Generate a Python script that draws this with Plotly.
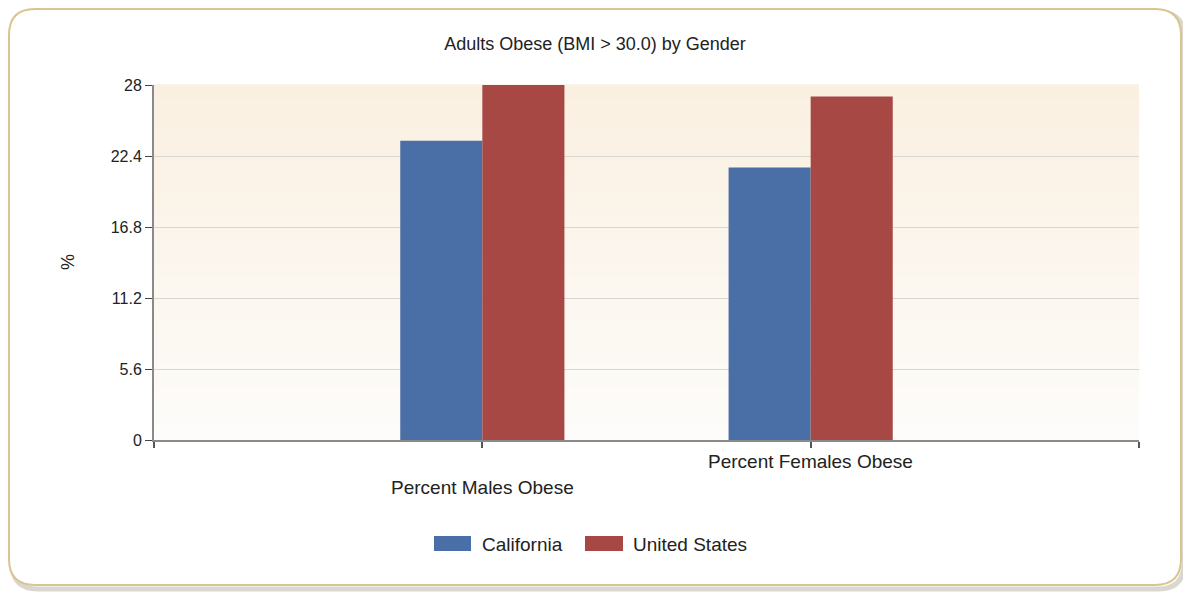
import plotly.graph_objects as go

categories = ["Percent Males Obese", "Percent Females Obese"]
california = [23.6, 21.5]
united_states = [28.0, 27.1]
y_ticks = [0, 5.6, 11.2, 16.8, 22.4, 28]
y_tick_labels = ["0", "5.6", "11.2", "16.8", "22.4", "28"]
series_names = ["California", "United States"]
series_colors = ["#4a6ea6", "#a84844"]

# The page body has an 8px margin; design in screen pixels and shift.
OFF = 8
W, H = 1191 - OFF, 594 - OFF
PL, PR, PT, PB = 154, 1139, 85, 440   # plot area in screen pixels
L, T = PL - OFF, PT - OFF
pw, ph = PR - PL, PB - PT
R, B = W - L - pw, H - T - ph

def px(x):
    return (x - PL) / pw

def py(y):
    return (PB - y) / ph

FONT = "Liberation Sans, Arial, sans-serif"
xpos = list(range(len(categories)))

fig = go.Figure()
fig.add_trace(go.Bar(x=xpos, y=california, name=series_names[0], marker_color=series_colors[0],
                     marker_line_width=0, showlegend=False))
fig.add_trace(go.Bar(x=xpos, y=united_states, name=series_names[1], marker_color=series_colors[1],
                     marker_line_width=0, showlegend=False))

shapes = []

def frame_path(x0, y0, x1, y1, r):
    pts = []
    pts.append("M %f,%f" % (px(x0 + r), py(y0)))
    pts.append("L %f,%f" % (px(x1 - r), py(y0)))
    pts.append("Q %f,%f %f,%f" % (px(x1), py(y0), px(x1), py(y0 + r)))
    pts.append("L %f,%f" % (px(x1), py(y1 - r)))
    pts.append("Q %f,%f %f,%f" % (px(x1), py(y1), px(x1 - r), py(y1)))
    pts.append("L %f,%f" % (px(x0 + r), py(y1)))
    pts.append("Q %f,%f %f,%f" % (px(x0), py(y1), px(x0), py(y1 - r)))
    pts.append("L %f,%f" % (px(x0), py(y0 + r)))
    pts.append("Q %f,%f %f,%f" % (px(x0), py(y0), px(x0 + r), py(y0)))
    pts.append("Z")
    return " ".join(pts)

# outer rounded frame with soft shadow
shapes.append(dict(type="path", xref="paper", yref="paper",
                   path=frame_path(12, 12, 1184, 589, 26),
                   line=dict(color="rgba(150,140,120,0.35)", width=5), layer="below"))
shapes.append(dict(type="path", xref="paper", yref="paper",
                   path=frame_path(9, 9, 1181, 585, 26),
                   line=dict(color="#d9c58e", width=2), fillcolor="white", layer="below"))

# gradient background in plot area
n = 70
top = (250, 240, 225)
bot = (253, 252, 250)
for i in range(n):
    f = i / (n - 1)
    c = tuple(round(top[k] + (bot[k] - top[k]) * f) for k in range(3))
    shapes.append(dict(type="rect", xref="paper", yref="paper", x0=0, x1=1,
                       y0=1 - (i + 1) / n, y1=1 - i / n + 0.002, fillcolor="rgb(%d,%d,%d)" % c,
                       line_width=0, layer="below"))

# custom legend keys
legend_keys = [(434, 471), (585, 623)]
for (x0, x1), col in zip(legend_keys, series_colors):
    shapes.append(dict(type="rect", xref="paper", yref="paper", x0=px(x0), x1=px(x1),
                       y0=py(551), y1=py(536), fillcolor=col, line_width=0))

annotations = [
    dict(text=categories[0], x=0, y=py(487), xref="x", yref="paper", showarrow=False,
         xanchor="center", yanchor="middle", font=dict(family=FONT, size=19, color="#222")),
    dict(text=categories[1], x=1, y=py(462), xref="x", yref="paper", showarrow=False,
         xanchor="center", yanchor="middle", font=dict(family=FONT, size=19, color="#222")),
    dict(text="%", x=px(68), y=py(262), xref="paper", yref="paper", showarrow=False,
         xanchor="center", yanchor="middle",
         textangle=-90, font=dict(family=FONT, size=18, color="#222")),
    dict(text=series_names[0], x=px(480), y=py(544), xref="paper", yref="paper",
         showarrow=False, xanchor="left", yanchor="middle",
         font=dict(family=FONT, size=19, color="#222")),
    dict(text=series_names[1], x=px(631), y=py(544), xref="paper", yref="paper",
         showarrow=False, xanchor="left", yanchor="middle",
         font=dict(family=FONT, size=19, color="#222")),
]

fig.update_layout(
    width=W, height=H,
    margin=dict(l=L, r=R, t=T, b=B),
    paper_bgcolor="white",
    plot_bgcolor="rgba(0,0,0,0)",
    barmode="group", bargap=0.5, bargroupgap=0,
    showlegend=False,
    title=dict(text="Adults Obese (BMI > 30.0) by Gender", x=px(595), xanchor="center",
               xref="paper", y=1 - (44 - OFF) / H, yanchor="middle",
               font=dict(family=FONT, size=18, color="#222")),
    font=dict(family=FONT, size=16, color="#222"),
    xaxis=dict(range=[-1, 2], tickvals=[-1, 0, 1, 2], ticktext=["", "", "", ""],
               showgrid=False, zeroline=False, showline=True, linecolor="#8a8a8a",
               linewidth=2, ticks="outside", ticklen=6, tickcolor="#555", tickwidth=2),
    yaxis=dict(range=[0, 28], tickvals=y_ticks, ticktext=y_tick_labels,
               showgrid=True, gridcolor="#d9d5d0", gridwidth=1, zeroline=False,
               showline=True, linecolor="#8a8a8a", linewidth=2,
               ticks="outside", ticklen=7, tickcolor="#444", tickwidth=1,
               tickfont=dict(family=FONT, size=16, color="#222")),
    shapes=shapes,
    annotations=annotations,
)

fig.write_html("out.html")
